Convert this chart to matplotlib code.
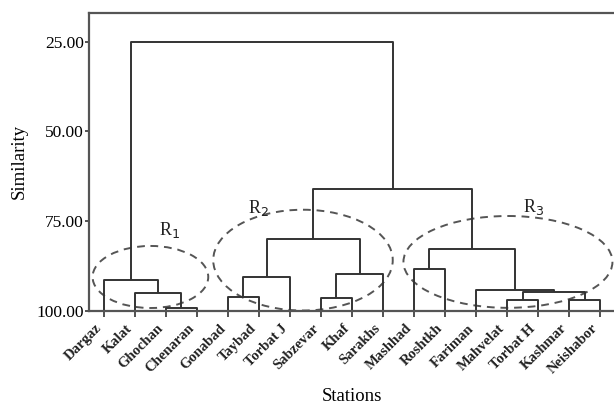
import matplotlib
matplotlib.use('Agg')
import matplotlib.pyplot as plt
from matplotlib.patches import Ellipse

plt.rcParams['font.family'] = ['Liberation Serif', 'DejaVu Serif']

# leaf order along the x axis
stations = ['Dargaz', 'Kalat', 'Ghochan', 'Chenaran', 'Gonabad', 'Taybad',
            'Torbat J', 'Sabzevar', 'Khaf', 'Sarakhs', 'Mashhad', 'Roshtkh',
            'Fariman', 'Mahvelat', 'Torbat H', 'Kashmar', 'Neishabor']

# merges: (left member, right member, similarity); members are station
# names or 'c<k>' for the k-th merge (1-based)
merge_left = ['Ghochan', 'Kalat', 'Dargaz', 'Gonabad', 'c4', 'Sabzevar', 'c6', 'c5',
              'Mashhad', 'Mahvelat', 'Kashmar', 'c10', 'Fariman', 'c9', 'c8', 'c3']
merge_right = ['Chenaran', 'c1', 'c2', 'Taybad', 'Torbat J', 'Khaf', 'Sarakhs', 'c7',
               'Roshtkh', 'Torbat H', 'Neishabor', 'c11', 'c12', 'c13', 'c14', 'c15']
merge_sim = [99.3, 95.2, 91.4, 96.3, 90.5, 96.5, 89.8, 80.1,
             88.4, 96.9, 96.9, 94.8, 94.3, 82.8, 66.2, 25.0]

# group ellipses: label, centre x (leaf units), centre y, width, height
groups = ['R$_1$', 'R$_2$', 'R$_3$']
group_cx = [1.50, 6.42, 13.03]
group_cy = [90.6, 85.9, 86.4]
group_w = [3.73, 5.79, 6.74]
group_h = [17.3, 28.1, 25.6]
group_lx = [2.13, 4.97, 13.85]
group_ly = [77.5, 71.5, 71.0]

fig = plt.figure(figsize=(6.14, 4.07), dpi=100)
ax = fig.add_axes([0.1455, 0.2366, 0.857, 0.7324])

pos = {s: (i, 100.0) for i, s in enumerate(stations)}
line_kw = dict(color='#333333', lw=1.4, solid_capstyle='butt')
for k, (a, b, h) in enumerate(zip(merge_left, merge_right, merge_sim), start=1):
    xa, ya = pos[a]
    xb, yb = pos[b]
    ax.plot([xa, xa, xb, xb], [ya, h, h, yb], **line_kw)
    pos['c%d' % k] = ((xa + xb) / 2, h)

for lab, cx, cy, w, h, lx, ly in zip(groups, group_cx, group_cy, group_w, group_h,
                                     group_lx, group_ly):
    ax.add_patch(Ellipse((cx, cy), w, h, fill=False, ls=(0, (4, 3)),
                         lw=1.4, edgecolor='#555555'))
    ax.text(lx, ly, lab, fontsize=13, ha='center', va='center', color='#222222')

ax.set_xlim(-0.47, 16.5)
ax.set_ylim(100, 16.9)
ax.set_yticks([25, 50, 75, 100])
ax.set_yticklabels(['25.00', '50.00', '75.00', '100.00'], fontsize=12.5)
ax.set_xticks(range(len(stations)))
ax.set_xticklabels(stations, rotation=45, ha='right', va='top', fontsize=10.5,
                   fontweight='bold', color='#222222')
ax.tick_params(axis='x', length=4, width=1.2, color='#333333', pad=4)
ax.tick_params(axis='y', length=3, width=1.2, color='#333333', pad=1)
for side in ['left', 'top', 'bottom']:
    ax.spines[side].set_color('#555555')
    ax.spines[side].set_linewidth(1.6)
ax.spines['right'].set_visible(False)

ax.set_ylabel('Similarity', fontsize=13.5, labelpad=6)
ax.set_xlabel('Stations', fontsize=13.5, labelpad=8)

fig.savefig('out.png', dpi=100)
